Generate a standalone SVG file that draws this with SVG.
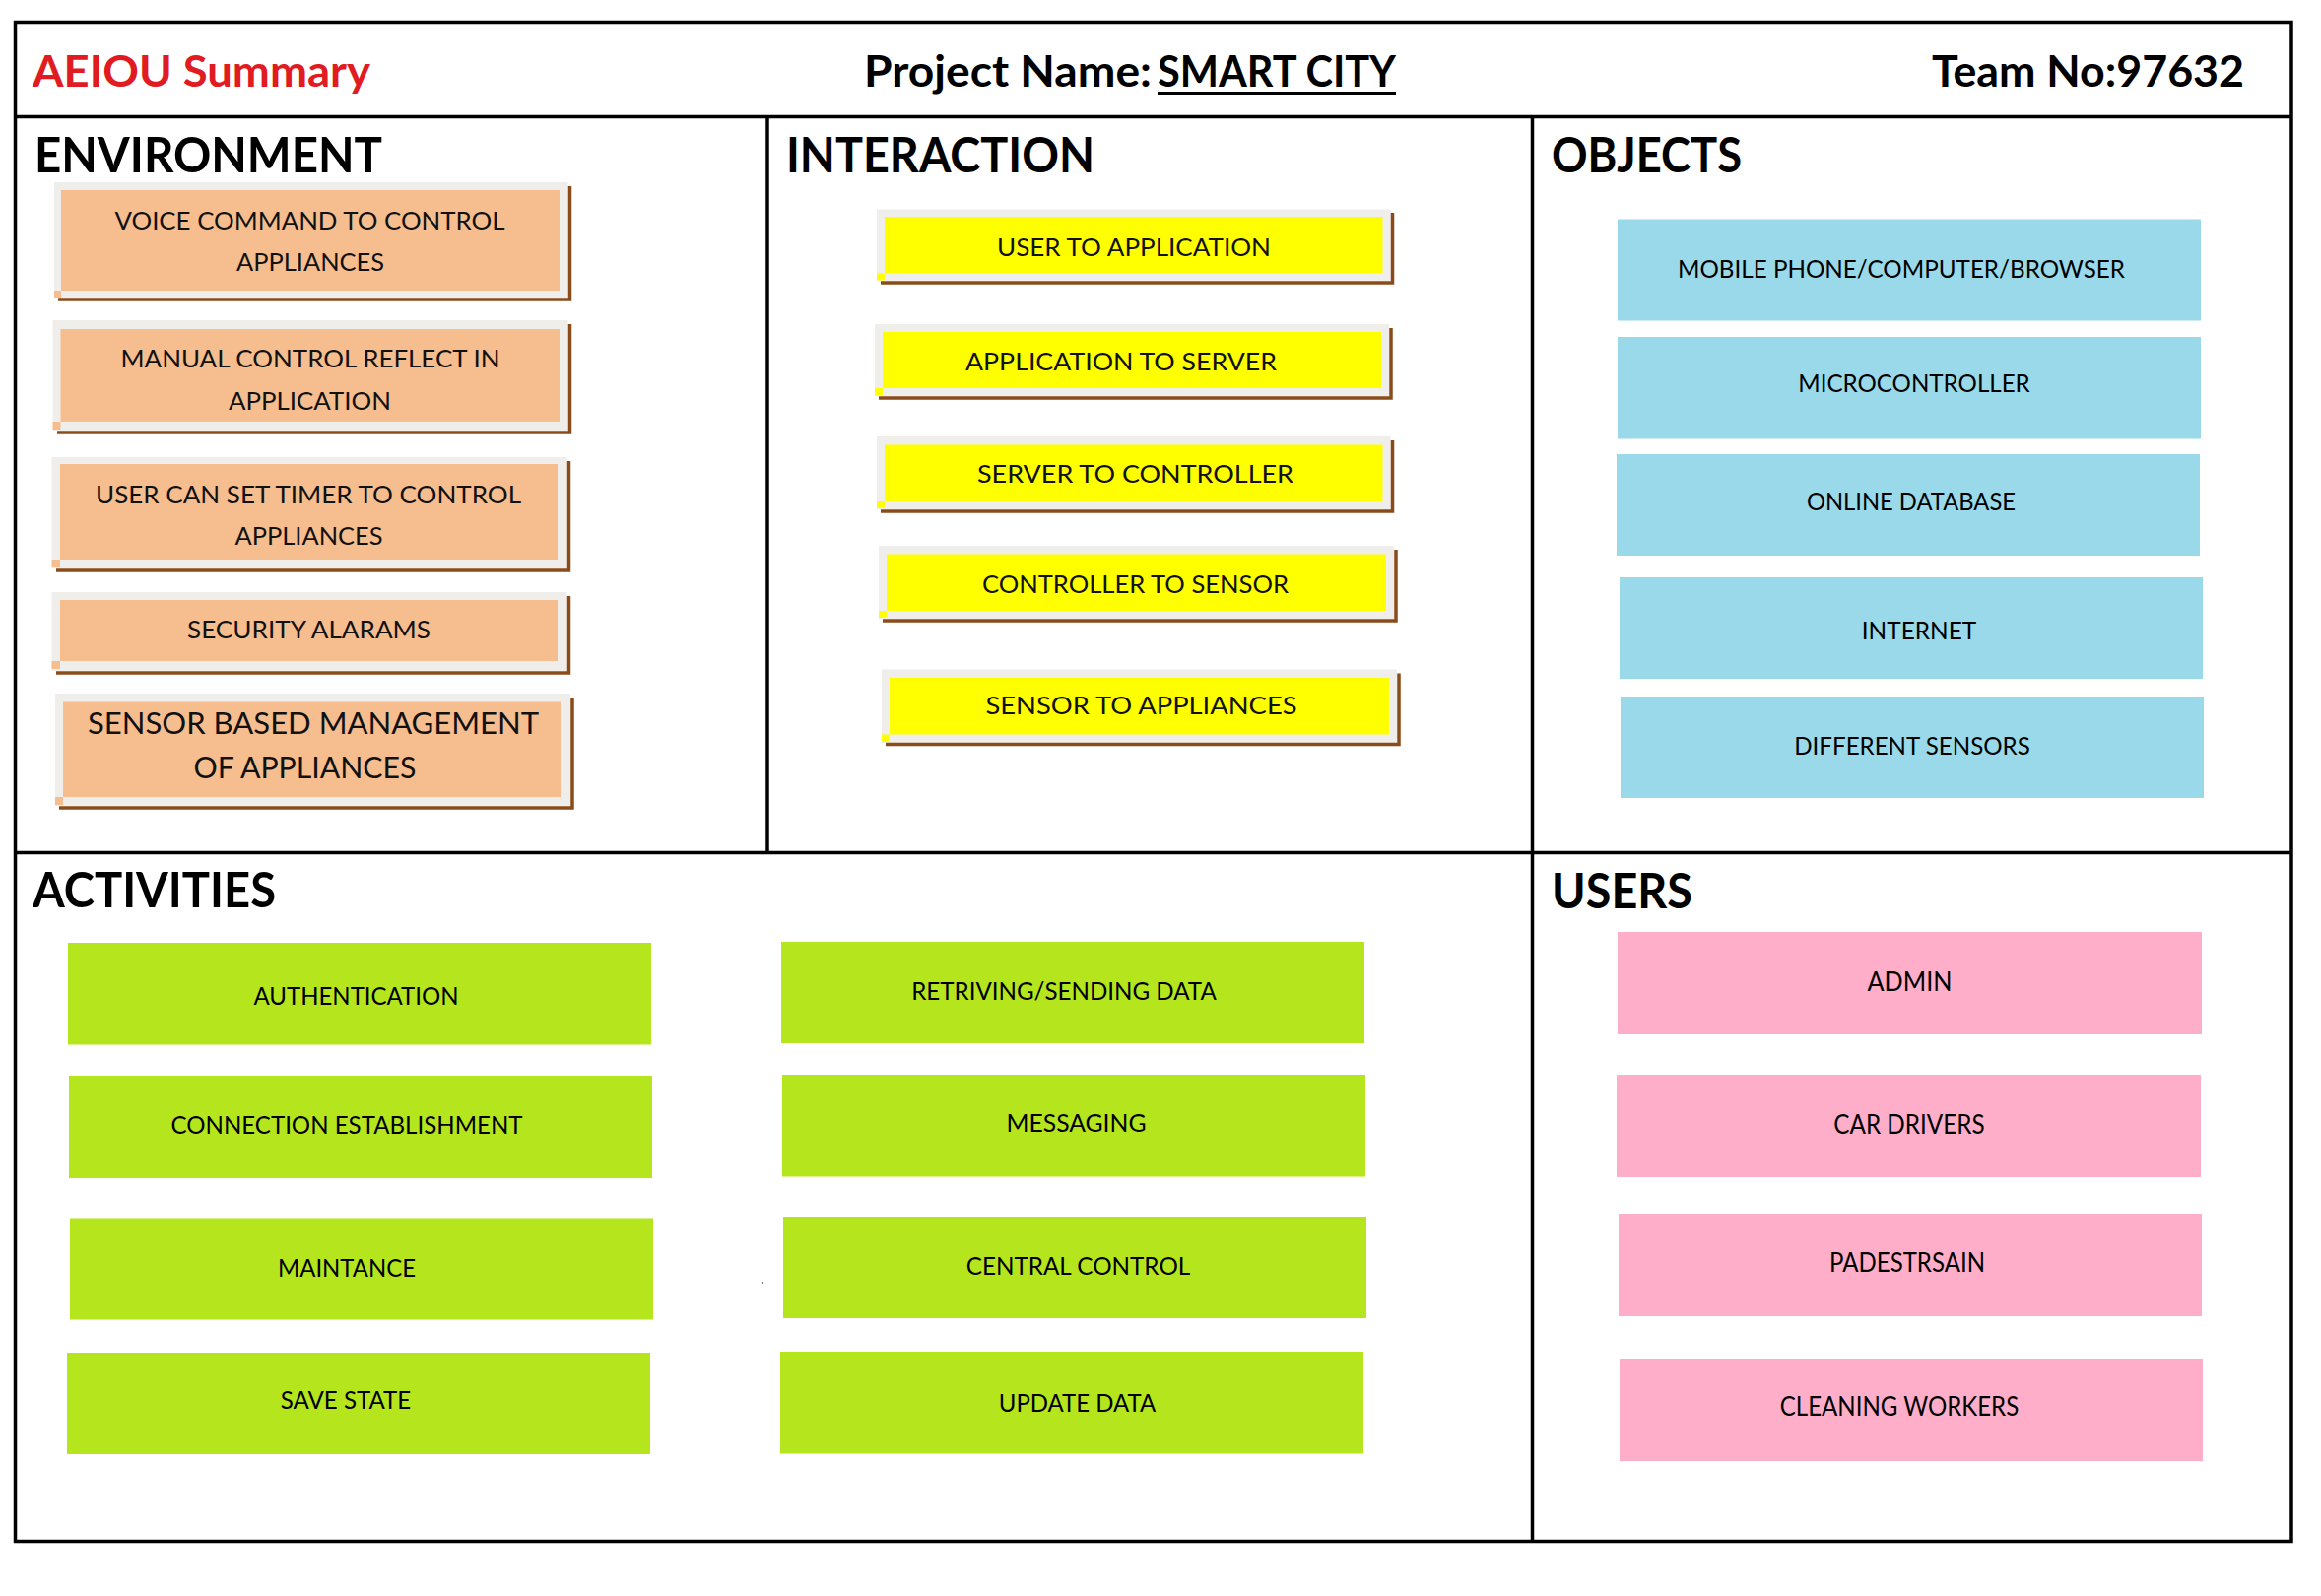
<svg xmlns="http://www.w3.org/2000/svg" width="2356" height="1620" viewBox="0 0 2356 1620">
<style>
  .hdr{font-family:Lato,"Liberation Sans",sans-serif;font-weight:700;font-size:44px;fill:#000}
  .sec{font-family:Lato,"Liberation Sans",sans-serif;font-weight:700;font-size:49px;fill:#000}
  .lbl{font-family:Lato,"Liberation Sans",sans-serif;font-weight:400;font-size:25.5px;fill:#111;text-anchor:middle}
  .lbl2{font-family:Lato,"Liberation Sans",sans-serif;font-weight:400;font-size:25px;fill:#000;text-anchor:middle}
  .frame{fill:#f0eeea}
  .env{fill:#f6bd8e}
  .int{fill:#ffff00}
  .brown{fill:none;stroke:#8a4b1a;stroke-width:3.5}
  .obj{fill:#99d9ea}
  .act{fill:#b5e61d}
  .usr{fill:#ffaec9}
  .grid{stroke:#000;stroke-width:3.5;fill:none}
</style>
<rect x="0" y="0" width="2356" height="1620" fill="#fff"/>

<g id="grid">
  <rect class="grid" x="15.5" y="22.5" width="2310.5" height="1542"/>
  <line class="grid" x1="15.5" y1="118.5" x2="2326" y2="118.5"/>
  <line class="grid" x1="15.5" y1="865.5" x2="2326" y2="865.5"/>
  <line class="grid" x1="779" y1="118.5" x2="779" y2="865.5"/>
  <line class="grid" x1="1555.5" y1="118.5" x2="1555.5" y2="1564.5"/>
</g>

<g id="header">
  <text class="hdr" x="33" y="88" style="fill:#e01b22" textLength="343" lengthAdjust="spacingAndGlyphs">AEIOU Summary</text>
  <text class="hdr" x="877" y="88" textLength="292" lengthAdjust="spacingAndGlyphs">Project Name:</text>
  <text class="hdr" x="1175" y="88" textLength="242" lengthAdjust="spacingAndGlyphs">SMART CITY</text>
  <line x1="1175" y1="94.5" x2="1417" y2="94.5" stroke="#000" stroke-width="3"/>
  <text class="hdr" x="1961" y="88" textLength="317" lengthAdjust="spacingAndGlyphs">Team No:97632</text>
</g>

<g id="section-titles">
  <text class="sec" x="35" y="175" textLength="353" lengthAdjust="spacingAndGlyphs">ENVIRONMENT</text>
  <text class="sec" x="798" y="175" textLength="313" lengthAdjust="spacingAndGlyphs">INTERACTION</text>
  <text class="sec" x="1575" y="175" textLength="193" lengthAdjust="spacingAndGlyphs">OBJECTS</text>
  <text class="sec" x="33" y="921" textLength="247" lengthAdjust="spacingAndGlyphs">ACTIVITIES</text>
  <text class="sec" x="1575" y="922" textLength="143" lengthAdjust="spacingAndGlyphs">USERS</text>
</g>

<!-- ENVIRONMENT -->
<g id="env-1">
  <rect class="frame" x="55" y="185" width="521.5" height="117"/>
  <rect class="env" x="62" y="193" width="506" height="102"/>
  <rect class="env" x="55" y="295" width="7" height="7"/>
  <path class="brown" d="M59,304 H578.5 V189"/>
  <text class="lbl" x="314.5" y="233" textLength="396" lengthAdjust="spacingAndGlyphs">VOICE COMMAND TO CONTROL</text>
  <text class="lbl" x="315" y="275" textLength="150" lengthAdjust="spacingAndGlyphs">APPLIANCES</text>
</g>
<g id="env-2">
  <rect class="frame" x="53.5" y="325" width="523" height="112"/>
  <rect class="env" x="61.5" y="334" width="506.5" height="94"/>
  <rect class="env" x="53.5" y="428" width="8" height="8"/>
  <path class="brown" d="M58,439 H578.5 V329"/>
  <text class="lbl" x="315" y="373" textLength="385" lengthAdjust="spacingAndGlyphs">MANUAL CONTROL REFLECT IN</text>
  <text class="lbl" x="314.5" y="416" textLength="165" lengthAdjust="spacingAndGlyphs">APPLICATION</text>
</g>
<g id="env-3">
  <rect class="frame" x="52.5" y="464" width="523" height="113"/>
  <rect class="env" x="61" y="471" width="505" height="97"/>
  <rect class="env" x="52.5" y="568" width="8.5" height="8"/>
  <path class="brown" d="M57,579 H577.5 V468"/>
  <text class="lbl" x="313" y="511" textLength="432" lengthAdjust="spacingAndGlyphs">USER CAN SET TIMER TO CONTROL</text>
  <text class="lbl" x="313.5" y="553" textLength="150" lengthAdjust="spacingAndGlyphs">APPLIANCES</text>
</g>
<g id="env-4">
  <rect class="frame" x="52.5" y="601" width="523" height="80"/>
  <rect class="env" x="61" y="609" width="505" height="62"/>
  <rect class="env" x="52.5" y="671" width="8.5" height="8"/>
  <path class="brown" d="M57,683 H577.5 V605"/>
  <text class="lbl" x="313.5" y="648" textLength="247" lengthAdjust="spacingAndGlyphs">SECURITY ALARAMS</text>
</g>
<g id="env-5">
  <rect class="frame" x="56" y="704" width="523" height="114"/>
  <rect class="env" x="64" y="712.5" width="505" height="96.5"/>
  <rect class="env" x="56" y="809" width="8" height="8"/>
  <path class="brown" d="M60,820 H581 V708"/>
  <text class="lbl" x="318" y="745" style="font-size:30px" textLength="458" lengthAdjust="spacingAndGlyphs">SENSOR BASED MANAGEMENT</text>
  <text class="lbl" x="309.5" y="790" style="font-size:30px" textLength="226" lengthAdjust="spacingAndGlyphs">OF APPLIANCES</text>
</g>

<!-- INTERACTION -->
<g id="int-1">
  <rect class="frame" x="890" y="212.5" width="521.5" height="72.5"/>
  <rect class="int" x="898" y="220" width="505.5" height="57.5"/>
  <rect class="int" x="890" y="277.5" width="8" height="7"/>
  <path class="brown" d="M894,287 H1413.5 V216"/>
  <text class="lbl" x="1151" y="259.5" textLength="278" lengthAdjust="spacingAndGlyphs">USER TO APPLICATION</text>
</g>
<g id="int-2">
  <rect class="frame" x="888" y="329" width="522" height="73"/>
  <rect class="int" x="896" y="337" width="506" height="57"/>
  <rect class="int" x="888" y="394" width="8" height="7"/>
  <path class="brown" d="M892,404 H1412 V333"/>
  <text class="lbl" x="1138" y="376" textLength="316" lengthAdjust="spacingAndGlyphs">APPLICATION TO SERVER</text>
</g>
<g id="int-3">
  <rect class="frame" x="890" y="443" width="521.5" height="74"/>
  <rect class="int" x="898" y="451.5" width="505.5" height="57.5"/>
  <rect class="int" x="890" y="509" width="8" height="7"/>
  <path class="brown" d="M894,519 H1413.5 V447"/>
  <text class="lbl" x="1152.5" y="490" textLength="321" lengthAdjust="spacingAndGlyphs">SERVER TO CONTROLLER</text>
</g>
<g id="int-4">
  <rect class="frame" x="892" y="554" width="523" height="74.5"/>
  <rect class="int" x="900" y="562.5" width="507" height="57.5"/>
  <rect class="int" x="892" y="620" width="8" height="7"/>
  <path class="brown" d="M896,630 H1417 V558"/>
  <text class="lbl" x="1152.5" y="601.5" textLength="311" lengthAdjust="spacingAndGlyphs">CONTROLLER TO SENSOR</text>
</g>
<g id="int-5">
  <rect class="frame" x="895" y="679.5" width="523" height="74.5"/>
  <rect class="int" x="903" y="688" width="507" height="57.5"/>
  <rect class="int" x="895" y="745.5" width="8" height="7"/>
  <path class="brown" d="M899,755.5 H1420 V683.5"/>
  <text class="lbl" x="1158.5" y="725" textLength="316" lengthAdjust="spacingAndGlyphs">SENSOR TO APPLIANCES</text>
</g>

<!-- OBJECTS -->
<g id="obj-1">
  <rect class="obj" x="1642" y="222.5" width="592" height="103"/>
  <text class="lbl2" x="1930" y="282" textLength="454" lengthAdjust="spacingAndGlyphs">MOBILE PHONE/COMPUTER/BROWSER</text>
</g>
<g id="obj-2">
  <rect class="obj" x="1642" y="342" width="592" height="103.5"/>
  <text class="lbl2" x="1943" y="398" textLength="235.5" lengthAdjust="spacingAndGlyphs">MICROCONTROLLER</text>
</g>
<g id="obj-3">
  <rect class="obj" x="1641" y="461" width="592" height="103"/>
  <text class="lbl2" x="1940" y="518" textLength="212" lengthAdjust="spacingAndGlyphs">ONLINE DATABASE</text>
</g>
<g id="obj-4">
  <rect class="obj" x="1644" y="586" width="592" height="103"/>
  <text class="lbl2" x="1948" y="649" textLength="116.5" lengthAdjust="spacingAndGlyphs">INTERNET</text>
</g>
<g id="obj-5">
  <rect class="obj" x="1645" y="707" width="592" height="103"/>
  <text class="lbl2" x="1941" y="765.5" textLength="239.5" lengthAdjust="spacingAndGlyphs">DIFFERENT SENSORS</text>
</g>

<!-- ACTIVITIES -->
<g id="act-1">
  <rect class="act" x="69" y="957" width="592" height="103.5"/>
  <text class="lbl2" x="361.5" y="1019.5" textLength="208" lengthAdjust="spacingAndGlyphs">AUTHENTICATION</text>
</g>
<g id="act-2">
  <rect class="act" x="70" y="1092" width="592" height="104"/>
  <text class="lbl2" x="352" y="1151" textLength="357" lengthAdjust="spacingAndGlyphs">CONNECTION ESTABLISHMENT</text>
</g>
<g id="act-3">
  <rect class="act" x="71" y="1236.5" width="592" height="103"/>
  <text class="lbl2" x="352" y="1295.5" textLength="140" lengthAdjust="spacingAndGlyphs">MAINTANCE</text>
</g>
<g id="act-4">
  <rect class="act" x="68" y="1373" width="592" height="103"/>
  <text class="lbl2" x="351" y="1430" textLength="132.5" lengthAdjust="spacingAndGlyphs">SAVE STATE</text>
</g>
<g id="act-5">
  <rect class="act" x="793" y="956" width="592" height="103"/>
  <text class="lbl2" x="1080" y="1015" textLength="309.5" lengthAdjust="spacingAndGlyphs">RETRIVING/SENDING DATA</text>
</g>
<g id="act-6">
  <rect class="act" x="794" y="1091" width="592" height="103.5"/>
  <text class="lbl2" x="1092.5" y="1149" textLength="142" lengthAdjust="spacingAndGlyphs">MESSAGING</text>
</g>
<g id="act-7">
  <rect class="act" x="795" y="1235" width="592" height="103"/>
  <text class="lbl2" x="1094.5" y="1294" textLength="227.5" lengthAdjust="spacingAndGlyphs">CENTRAL CONTROL</text>
</g>
<g id="act-8">
  <rect class="act" x="792" y="1372" width="592" height="103.5"/>
  <text class="lbl2" x="1093.5" y="1432.5" textLength="159.5" lengthAdjust="spacingAndGlyphs">UPDATE DATA</text>
</g>
<circle cx="774" cy="1302" r="1" fill="#444"/>

<!-- USERS -->
<g id="usr-1">
  <rect class="usr" x="1642" y="946" width="593" height="104"/>
  <text class="lbl2" x="1938.5" y="1006" style="font-size:26px" textLength="86" lengthAdjust="spacingAndGlyphs">ADMIN</text>
</g>
<g id="usr-2">
  <rect class="usr" x="1641" y="1091" width="593" height="104"/>
  <text class="lbl2" x="1938" y="1150.5" style="font-size:26px" textLength="153.5" lengthAdjust="spacingAndGlyphs">CAR DRIVERS</text>
</g>
<g id="usr-3">
  <rect class="usr" x="1643" y="1232" width="592" height="104"/>
  <text class="lbl2" x="1936" y="1290.5" style="font-size:26px" textLength="158" lengthAdjust="spacingAndGlyphs">PADESTRSAIN</text>
</g>
<g id="usr-4">
  <rect class="usr" x="1644" y="1379" width="592" height="104"/>
  <text class="lbl2" x="1928" y="1437" style="font-size:26px" textLength="242.5" lengthAdjust="spacingAndGlyphs">CLEANING WORKERS</text>
</g>

<g id="connectors"/>
</svg>
